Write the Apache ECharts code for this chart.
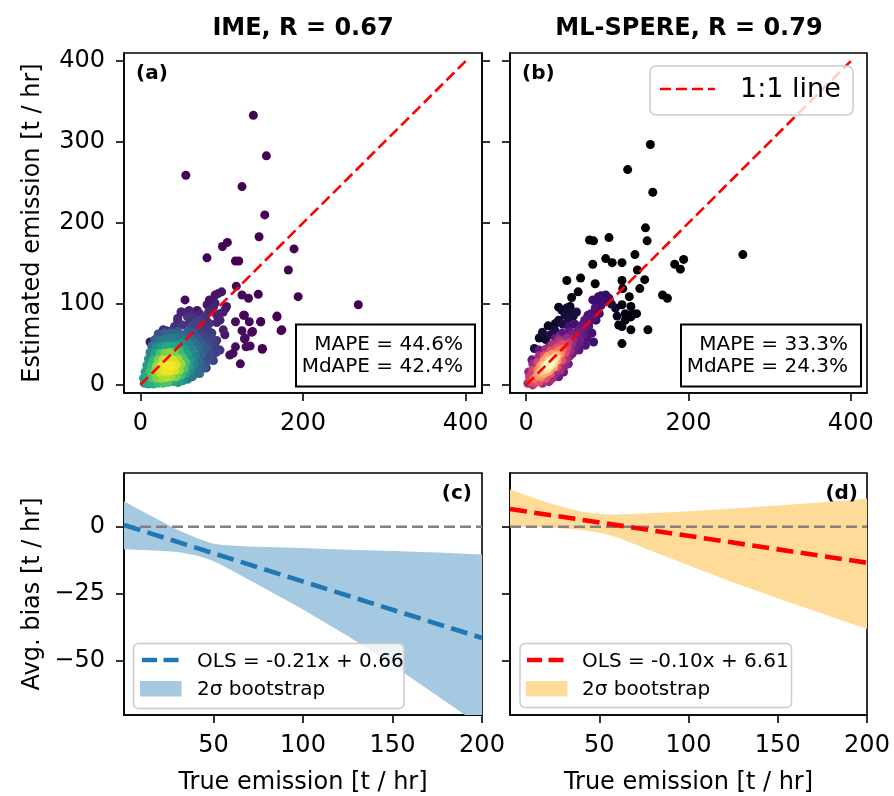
<!DOCTYPE html>
<html>
<head>
<meta charset="utf-8">
<script src="https://cdn.jsdelivr.net/npm/echarts@6/dist/echarts.min.js"></script>
<style>
  html, body { margin: 0; padding: 0; background: #fff; }
  #chart { width: 894px; height: 796px; }
</style>
</head>
<body>
<div id="chart"></div>
<script>
// ---- data ----
// [true emission, estimated emission, point density 0..1]
var imePoints = [
  [139,333,0],[155,283,0],[56,259,0],[125,245,0],[153,210,0],[146,183,0],[101,171,0],[107,176,0],
  [82,157,0],[117,153,0],[121,153,0],[189,168,0],[182,142,0],[118,122,0.02],[145,112,0],[125,111,0.02],
  [133,107,0.02],[194,109,0],[268,99,0],[168,85,0],[173,67,0],[150,44,0],[127,86,0.02],[148,78,0],
  [117,78,0.03],[125,67,0.03],[129,58,0.03],[137,65,0.02],[135,48,0.02],[117,47,0.03],[114,39,0.03],
  [110,37,0.03],[123,26,0.02],[105,95,0.05],[96,113,0.06],[100,115,0.05],[92,111,0.06],[55,105,0.03],
  [51,90,0.05],[70,92,0.05],[67,89,0.06],[46,82,0.05],[85,105,0.05],[82,99,0.06],[12,53,0.05],
  [21,55,0.06],[32,67,0.08],[98,88,0.08],[94,77,0.1],[102,68,0.08],[104,62,0.06],[93,40,0.1],
  [79,43,0.12],[77,33,0.12],[81,21,0.1],[69,31,0.15],[128,86,0.02],[134,78,0.02],[138,66,0.02],
  [128,57,0.03],[130,47,0.03],[150,45,0],[148,78,0],[168,84,0],[174,68,0],
  [92,101,0.08],[106,97,0.06],[102,90,0.08],[73,88,0.1],[50,90,0.1],[46,80,0.12],[81,80,0.12],
  [85,76,0.14],[98,80,0.1],[94,86,0.1],[28,68,0.12],[36,66,0.15],[42,72,0.14],[52,74,0.15],
  [61,78,0.14],[57,64,0.2],[65,68,0.2],[75,66,0.18],[77,74,0.16],[83,68,0.16],[88,64,0.15],
  [94,55,0.15],[98,43,0.15],[94,41,0.18],[90,51,0.18],[85,35,0.22],[81,27,0.25],[73,31,0.3],
  [79,21,0.28],[73,14,0.35],[63,12,0.4],[59,8,0.4],[48,4,0.55],[40,4,0.6],
  [86,40,0.22],[90,30,0.2],[84,50,0.22],[92,48,0.18],[88,58,0.2],
  [5,2,0.55],[10,1,0.6],[16,1,0.62],[22,2,0.68],[28,2,0.7],[34,3,0.72],[46,3,0.55],[52,5,0.5],
  [58,7,0.42],[64,10,0.38],[68,14,0.33],
  [4,8,0.55],[8,11,0.62],[14,9,0.72],[20,8,0.8],[26,8,0.85],[32,9,0.88],[38,10,0.86],[44,10,0.8],
  [50,12,0.7],[56,14,0.58],[62,18,0.48],[70,20,0.35],[76,24,0.3],
  [6,16,0.55],[12,17,0.7],[18,16,0.82],[24,16,0.92],[30,17,0.97],[36,17,0.98],[42,18,0.94],
  [48,18,0.85],[54,20,0.72],[60,24,0.55],[66,26,0.45],[72,28,0.35],
  [8,24,0.55],[14,24,0.68],[20,23,0.85],[26,24,0.95],[32,24,1.0],[38,24,1.0],[44,25,0.95],
  [50,26,0.85],[56,28,0.7],[62,32,0.52],[68,36,0.42],[76,38,0.3],
  [10,32,0.5],[16,31,0.65],[22,31,0.8],[28,31,0.92],[34,31,0.95],[40,31,0.93],[46,32,0.86],
  [52,34,0.72],[58,38,0.58],[64,44,0.45],[72,46,0.35],[80,45,0.28],
  [12,40,0.45],[18,39,0.58],[24,39,0.7],[30,39,0.8],[36,40,0.82],[42,40,0.78],[48,42,0.68],
  [54,45,0.55],[60,50,0.45],[68,52,0.35],[76,52,0.28],
  [14,48,0.38],[20,47,0.48],[26,47,0.55],[32,48,0.6],[38,48,0.6],[44,49,0.55],[50,52,0.48],
  [56,55,0.4],[62,58,0.35],[70,58,0.28],
  [18,56,0.32],[24,55,0.38],[30,56,0.42],[36,57,0.42],[42,58,0.4],[48,60,0.36],[54,62,0.32],
  [60,66,0.28],[66,64,0.25],[72,60,0.22],[80,58,0.2],
  [22,63,0.25],[30,64,0.3],[38,64,0.32],[46,66,0.28],[62,72,0.22],[68,76,0.2],[58,84,0.15],
  [64,86,0.14],[72,80,0.18],[78,84,0.15],[84,90,0.12],[90,96,0.1],[60,92,0.1]
];

var mlPoints = [
  [153,297,0],[125,266,0],[156,238,0],[147,194,0],[149,178,0],[78,179,0],[83,178,0],[102,182,0],
  [134,161,0],[98,156,0],[106,151,0],[118,151,0],[82,149,0],[183,149,0],[190,143,0],[194,155,0],
  [267,161,0],[137,142,0],[50,129,0],[67,132,0],[85,125,0],[118,129,0],[146,130,0],[119,119,0],
  [140,119,0],[168,111,0],[174,107,0],[64,115,0.02],[56,108,0.03],[54,97,0.04],[40,96,0.03],
  [127,109,0],[129,97,0.01],[118,99,0.02],[131,88,0.02],[122,88,0.02],[136,88,0.01],[129,84,0.01],
  [122,80,0.02],[114,74,0.02],[118,72,0.02],[129,68,0.01],[150,68,0],[118,51,0.01],[27,73,0.04],
  [36,76,0.05],[16,58,0.06],[24,56,0.08],
  [44,92,0.08],[50,95,0.08],[53,90,0.1],[48,86,0.1],[52,82,0.12],[58,85,0.1],[40,80,0.1],
  [45,75,0.12],[20,65,0.1],[30,62,0.12],[10,45,0.12],[35,68,0.12],[62,90,0.12],[100,108,0.15],
  [92,110,0.15],[88,100,0.15],[105,100,0.12],[110,95,0.08],[112,85,0.06],
  [82,105,0.2],[89,109,0.2],[98,111,0.18],[102,107,0.18],[92,99,0.22],[85,95,0.24],[79,84,0.25],
  [73,80,0.26],[69,74,0.28],[65,68,0.3],[59,64,0.3],[55,58,0.32],[77,72,0.25],[81,64,0.22],
  [83,53,0.2],[73,49,0.25],[65,43,0.28],[57,39,0.3],[48,31,0.35],[46,23,0.3],[40,18,0.4],
  [24,10,0.5],[11,8,0.4],[5,16,0.35],[7,31,0.3],[16,43,0.3],[28,47,0.35],[36,58,0.3],[44,64,0.28],
  [53,66,0.28],[62,58,0.32],[70,62,0.28],[75,58,0.24],[60,75,0.22],[52,72,0.22],[40,52,0.35],
  [66,52,0.3],[72,66,0.26],[90,88,0.2],[86,80,0.2],
  [60,62,0.35],[64,58,0.34],[62,50,0.32],[56,64,0.34],[66,66,0.32],[70,70,0.3],[68,62,0.3],
  [74,74,0.28],[72,80,0.27],[78,78,0.26],[80,88,0.24],[84,84,0.24],[88,92,0.22],[92,98,0.2],
  [96,104,0.2],[86,96,0.22],[76,86,0.24],[54,36,0.35],[58,44,0.33],[52,26,0.32],[46,16,0.3],
  [40,10,0.32],
  [2,2,0.45],[8,0,0.45],[20,2,0.45],[32,8,0.45],[42,18,0.45],[50,32,0.45],[54,42,0.45],[56,50,0.42],
  [58,56,0.4],[50,58,0.42],[40,56,0.45],[32,50,0.48],[24,44,0.45],[16,36,0.45],[8,26,0.42],
  [3,16,0.42],[48,24,0.4],[36,14,0.4],[28,4,0.42],
  [6,4,0.6],[10,2,0.58],[16,4,0.62],[24,8,0.62],[30,14,0.62],[38,22,0.6],[44,30,0.62],[48,40,0.6],
  [50,46,0.58],[46,50,0.6],[38,46,0.62],[30,42,0.62],[22,36,0.6],[14,28,0.58],[8,18,0.58],
  [4,10,0.55],[52,52,0.52],[42,52,0.52],
  [14,12,0.78],[17,16,0.85],[18,10,0.75],[22,14,0.82],[14,18,0.72],[18,24,0.78],[22,30,0.8],
  [26,35,0.78],[32,38,0.78],[38,30,0.8],[42,38,0.75],[40,42,0.72],[34,22,0.78],[28,17,0.8],
  [44,44,0.7],[10,8,0.7],
  [20,18,0.9],[24,22,0.97],[27,25,1.0],[30,28,1.0],[33,31,0.97],[36,34,0.92],[26,20,0.93],
  [30,24,0.95],[22,24,0.9],[28,31,0.9],[34,27,0.9],[38,36,0.85]
];

var oneToOne = [[0, 0], [400, 400]];

// bias panels: bootstrap band edges sampled at bandX
var bandX  = [0, 10, 20, 30, 40, 45, 50, 55, 60, 70, 80, 100, 125, 150, 175, 200];
var imeHigh = [9.5, 5.9, 2.3, -1.2, -4.0, -5.3, -6.3, -6.8, -7.0, -7.3, -7.5, -7.9, -8.5, -9.0, -9.6, -10.3];
var imeLow  = [-8.4, -8.6, -8.9, -9.4, -10.6, -11.5, -12.8, -14.4, -16.2, -19.8, -23.4, -30.8, -40.6, -51.4, -62.8, -74.4];
var mlHigh  = [13.9, 11.5, 9.2, 7.3, 5.7, 5.1, 4.8, 4.6, 4.6, 4.8, 5.1, 5.8, 6.8, 7.9, 9.1, 10.4];
var mlLow   = [0.0, -0.1, -0.3, -0.6, -1.2, -1.7, -2.2, -3.0, -4.0, -6.5, -9.2, -14.3, -20.7, -26.6, -32.3, -38.0];

var olsX   = [0, 200];
var imeOls = [0.66, -41.34];
var mlOls  = [6.61, -13.39];
var zeroLine = [[0, 0], [200, 0]];

var topTicks  = [0, 200, 400];
var estTicks  = [0, 100, 200, 300, 400];
var biasTicks = [-50, -25, 0];
var trueTicks = [50, 100, 150, 200];

// ---- helpers ----
var FONT = '"DejaVu Sans", sans-serif';
var viridis = ['#440154','#482475','#414487','#355f8d','#2a788e','#21918c','#22a884','#44bf70','#7ad151','#bddf26','#fde725'];
var magma = ['#000004','#140e36','#3b0f70','#641a80','#8c2981','#b73779','#de4968','#f7705c','#fe9f6d','#fecf92','#fcfdbf'];

function byDensity(pts) {
    return pts.slice().sort(function (p, q) { return p[2] - q[2]; });
}
function pairs(xs, ys) {
    return xs.map(function (x, i) { return [x, ys[i]]; });
}
function minus(v) {
    return v < 0 ? '\u2212' + (-v) : String(v);
}

function axis(gridIndex, min, max, ticks, showLabels, extra) {
    var a = {
        type: 'value', gridIndex: gridIndex, min: min, max: max,
        axisLine: { show: true, onZero: false, lineStyle: { color: '#000', width: 1.6 } },
        axisTick: { show: true, length: 8, customValues: ticks, lineStyle: { color: '#000', width: 1.6 } },
        axisLabel: { show: showLabels, margin: 19, customValues: ticks, fontSize: 24, fontFamily: FONT, color: '#000', formatter: minus },
        splitLine: { show: false }
    };
    for (var k in extra) a[k] = extra[k];
    return a;
}

// band between two edges, drawn as one polygon through the axis scales
function band(xi, yi, xs, lo, hi, color) {
    return {
        type: 'custom', xAxisIndex: xi, yAxisIndex: yi, clip: true, z: 1,
        data: xs.map(function (x, i) { return [x, lo[i], hi[i]]; }),
        renderItem: function (params, api) {
            if (params.dataIndex !== 0) return;
            var pts = [];
            for (var i = 0; i < xs.length; i++) pts.push(api.coord([xs[i], hi[i]]));
            for (var j = xs.length - 1; j >= 0; j--) pts.push(api.coord([xs[j], lo[j]]));
            return { type: 'polygon', shape: { points: pts }, style: { fill: color } };
        }
    };
}

var blueBand = '#a5c9e1';
var orangeBand = '#ffdb99';

var chart = echarts.init(document.getElementById('chart'), null, { renderer: 'canvas' });

var gridStyle = { show: true, borderColor: '#000', borderWidth: 1.6, backgroundColor: '#fff' };
var nameStyle = { fontSize: 24, fontFamily: FONT, color: '#000' };
var option = {
    backgroundColor: '#fff',
    animation: false,
    grid: [
        Object.assign({ left: 124, top: 53, width: 358, height: 340 }, gridStyle),
        Object.assign({ left: 510, top: 53, width: 357, height: 340 }, gridStyle),
        Object.assign({ left: 124, top: 473, width: 358, height: 244 }, gridStyle),
        Object.assign({ left: 510, top: 473, width: 357, height: 244 }, gridStyle)
    ],
    xAxis: [
        axis(0, -20, 420, topTicks, true, {}),
        axis(1, -20, 420, topTicks, true, {}),
        axis(2, 0, 200, trueTicks, true, { name: 'True emission [t / hr]', nameLocation: 'middle', nameGap: 56, nameTextStyle: nameStyle }),
        axis(3, 0, 200, trueTicks, true, { name: 'True emission [t / hr]', nameLocation: 'middle', nameGap: 56, nameTextStyle: nameStyle })
    ],
    yAxis: [
        axis(0, -10, 410, estTicks, true, { name: 'Estimated emission [t / hr]', nameLocation: 'middle', nameGap: 79, nameTextStyle: nameStyle }),
        axis(0, -10, 410, estTicks, false, { position: 'right' }),
        axis(1, -10, 410, estTicks, false, {}),
        axis(2, -70, 20, biasTicks, true, { name: 'Avg. bias [t / hr]', nameLocation: 'middle', nameGap: 79, nameTextStyle: nameStyle }),
        axis(3, -70, 20, biasTicks, false, {})
    ],
    visualMap: [
        { type: 'continuous', show: false, seriesIndex: 0, dimension: 2, min: 0, max: 1, inRange: { color: viridis } },
        { type: 'continuous', show: false, seriesIndex: 2, dimension: 2, min: 0, max: 1, inRange: { color: magma } }
    ],
    series: [
        { type: 'scatter', xAxisIndex: 0, yAxisIndex: 0, data: byDensity(imePoints), symbolSize: 9, z: 2,
          itemStyle: { opacity: 1 } },
        { type: 'line', xAxisIndex: 0, yAxisIndex: 0, data: oneToOne, symbol: 'none', z: 5,
          lineStyle: { color: '#ff0000', width: 2.6, type: [11, 5] } },
        { type: 'scatter', xAxisIndex: 1, yAxisIndex: 2, data: byDensity(mlPoints), symbolSize: 9, z: 2,
          itemStyle: { opacity: 1 } },
        { type: 'line', xAxisIndex: 1, yAxisIndex: 2, data: oneToOne, symbol: 'none', z: 5,
          lineStyle: { color: '#ff0000', width: 2.6, type: [11, 5] } },

        // (c) IME bias
        band(2, 3, bandX, imeLow, imeHigh, blueBand),
        { type: 'line', xAxisIndex: 2, yAxisIndex: 3, data: zeroLine, symbol: 'none', z: 3,
          lineStyle: { color: '#808080', width: 2.5, type: [11, 5] } },
        { type: 'line', xAxisIndex: 2, yAxisIndex: 3, data: pairs(olsX, imeOls), symbol: 'none', z: 4,
          lineStyle: { color: '#1f77b4', width: 4.6, type: [17, 7.5] } },

        // (d) ML-SPERE bias
        band(3, 4, bandX, mlLow, mlHigh, orangeBand),
        { type: 'line', xAxisIndex: 3, yAxisIndex: 4, data: zeroLine, symbol: 'none', z: 3,
          lineStyle: { color: '#808080', width: 2.5, type: [11, 5] } },
        { type: 'line', xAxisIndex: 3, yAxisIndex: 4, data: pairs(olsX, mlOls), symbol: 'none', z: 4,
          lineStyle: { color: '#ff0000', width: 4.6, type: [17, 7.5] } }
    ],
    graphic: [
        // titles
        { type: 'text', z: 100, style: { text: 'IME, R = 0.67', x: 303, y: 28.5, textAlign: 'center', textVerticalAlign: 'middle',
          font: 'bold 24px ' + FONT, fill: '#000' } },
        { type: 'text', z: 100, style: { text: 'ML-SPERE, R = 0.79', x: 689, y: 28.5, textAlign: 'center', textVerticalAlign: 'middle',
          font: 'bold 24px ' + FONT, fill: '#000' } },
        // panel letters
        { type: 'text', z: 100, style: { text: '(a)', x: 136, y: 74, textVerticalAlign: 'middle', font: 'bold 20px ' + FONT, fill: '#000' } },
        { type: 'text', z: 100, style: { text: '(b)', x: 522, y: 74, textVerticalAlign: 'middle', font: 'bold 20px ' + FONT, fill: '#000' } },
        { type: 'text', z: 100, style: { text: '(c)', x: 472, y: 494, textAlign: 'right', textVerticalAlign: 'middle', font: 'bold 20px ' + FONT, fill: '#000' } },
        { type: 'text', z: 100, style: { text: '(d)', x: 858, y: 494, textAlign: 'right', textVerticalAlign: 'middle', font: 'bold 20px ' + FONT, fill: '#000' } },
        // error boxes
        { type: 'rect', z: 100, shape: { x: 296, y: 324.5, width: 179, height: 62 }, style: { fill: '#fff', stroke: '#000', lineWidth: 2 } },
        { type: 'text', z: 101, style: { text: 'MAPE = 44.6%', x: 463, y: 344.5, textAlign: 'right', textVerticalAlign: 'middle', font: '20px ' + FONT, fill: '#000' } },
        { type: 'text', z: 101, style: { text: 'MdAPE = 42.4%', x: 463, y: 366.5, textAlign: 'right', textVerticalAlign: 'middle', font: '20px ' + FONT, fill: '#000' } },
        { type: 'rect', z: 100, shape: { x: 681, y: 324.5, width: 180, height: 62 }, style: { fill: '#fff', stroke: '#000', lineWidth: 2 } },
        { type: 'text', z: 101, style: { text: 'MAPE = 33.3%', x: 848, y: 344.5, textAlign: 'right', textVerticalAlign: 'middle', font: '20px ' + FONT, fill: '#000' } },
        { type: 'text', z: 101, style: { text: 'MdAPE = 24.3%', x: 848, y: 366.5, textAlign: 'right', textVerticalAlign: 'middle', font: '20px ' + FONT, fill: '#000' } },
        // legend (b)
        { type: 'rect', z: 100, shape: { x: 650, y: 66, width: 203, height: 49, r: 6 },
          style: { fill: 'rgba(255,255,255,0.8)', stroke: '#cccccc', lineWidth: 1.5 } },
        { type: 'line', z: 101, shape: { x1: 660, y1: 89, x2: 715, y2: 89 }, style: { stroke: '#ff0000', lineWidth: 2.6, lineDash: [11, 5] } },
        { type: 'text', z: 101, style: { text: '1:1 line', x: 740, y: 90, textVerticalAlign: 'middle', font: '27px ' + FONT, fill: '#000' } },
        // legend (c)
        { type: 'rect', z: 100, shape: { x: 133.5, y: 643.5, width: 270.5, height: 65, r: 5 },
          style: { fill: 'rgba(255,255,255,0.8)', stroke: '#cccccc', lineWidth: 1.5 } },
        { type: 'line', z: 101, shape: { x1: 142, y1: 660, x2: 180, y2: 660 }, style: { stroke: '#1f77b4', lineWidth: 4.5, lineDash: [15, 6.5] } },
        { type: 'rect', z: 101, shape: { x: 140, y: 681, width: 41.5, height: 15.5 }, style: { fill: blueBand } },
        { type: 'text', z: 101, style: { text: 'OLS = -0.21x + 0.66', x: 197, y: 661.5, textVerticalAlign: 'middle', font: '20px ' + FONT, fill: '#000' } },
        { type: 'text', z: 101, style: { text: '2\u03c3 bootstrap', x: 197, y: 690, textVerticalAlign: 'middle', font: '20px ' + FONT, fill: '#000' } },
        // legend (d)
        { type: 'rect', z: 100, shape: { x: 520, y: 643.5, width: 271.5, height: 64, r: 5 },
          style: { fill: 'rgba(255,255,255,0.8)', stroke: '#cccccc', lineWidth: 1.5 } },
        { type: 'line', z: 101, shape: { x1: 527, y1: 660, x2: 565, y2: 660 }, style: { stroke: '#ff0000', lineWidth: 4.5, lineDash: [15, 6.5] } },
        { type: 'rect', z: 101, shape: { x: 526, y: 681, width: 41.5, height: 15.5 }, style: { fill: orangeBand } },
        { type: 'text', z: 101, style: { text: 'OLS = -0.10x + 6.61', x: 582, y: 661.5, textVerticalAlign: 'middle', font: '20px ' + FONT, fill: '#000' } },
        { type: 'text', z: 101, style: { text: '2\u03c3 bootstrap', x: 582, y: 690, textVerticalAlign: 'middle', font: '20px ' + FONT, fill: '#000' } }
    ]
};

chart.setOption(option);
</script>
</body>
</html>
